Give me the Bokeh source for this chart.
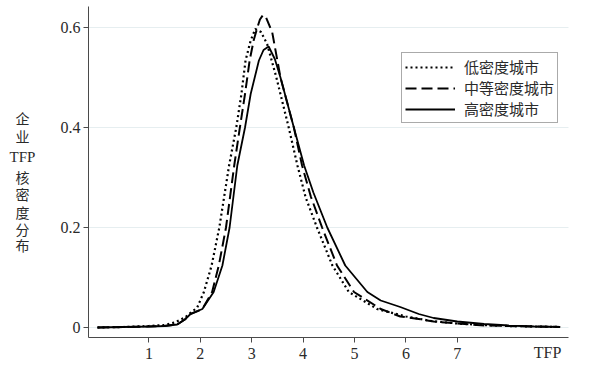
from bokeh.plotting import figure
from bokeh.models import (Range1d, FixedTicker, CustomJSTickFormatter,
                          Legend, LegendItem, Label)
from bokeh.embed import file_html
from bokeh.resources import INLINE

# ---- data ----
low_x = [0, 0.5, 1.0, 1.3, 1.5, 1.7, 1.94, 2.07, 2.22, 2.37, 2.56, 2.70, 2.80,
         2.88, 2.98, 3.07, 3.18, 3.30, 3.48, 3.72, 3.89, 4.05, 4.27, 4.57,
         4.89, 5.44, 6.0, 6.5, 7.0, 7.5, 8.0, 8.5, 9.0]
low_y = [0.000, 0.001, 0.003, 0.005, 0.010, 0.020, 0.040, 0.071, 0.124, 0.200,
         0.324, 0.400, 0.467, 0.534, 0.574, 0.597, 0.591, 0.567, 0.500, 0.400,
         0.324, 0.260, 0.200, 0.124, 0.071, 0.037, 0.022, 0.013, 0.008, 0.005,
         0.003, 0.002, 0.001]

mid_x = [0, 0.5, 1.0, 1.3, 1.55, 1.7, 1.81, 1.95, 2.04, 2.23, 2.36, 2.50, 2.66,
         2.77, 2.87, 2.96, 3.04, 3.11, 3.16, 3.22, 3.28, 3.40, 3.56, 3.82,
         3.98, 4.15, 4.37, 4.66, 4.99, 5.51, 5.89, 6.25, 6.54, 7.0, 7.52, 8.0,
         8.5, 9.0]
mid_y = [0.000, 0.001, 0.002, 0.003, 0.006, 0.016, 0.027, 0.033, 0.037, 0.071,
         0.124, 0.200, 0.324, 0.400, 0.467, 0.534, 0.575, 0.600, 0.616, 0.625,
         0.620, 0.590, 0.500, 0.400, 0.324, 0.262, 0.200, 0.124, 0.071, 0.037,
         0.022, 0.017, 0.012, 0.008, 0.004, 0.003, 0.002, 0.001]

high_x = [0, 0.5, 1.0, 1.3, 1.55, 1.7, 1.81, 1.95, 2.04, 2.26, 2.43, 2.57,
          2.72, 2.87, 2.98, 3.14, 3.23, 3.33, 3.45, 3.56, 3.82, 4.02, 4.20,
          4.47, 4.82, 5.25, 5.51, 5.89, 6.25, 6.54, 7.0, 7.52, 8.0, 8.5, 9.0]
high_y = [0.000, 0.001, 0.002, 0.003, 0.006, 0.016, 0.027, 0.033, 0.037, 0.071,
          0.124, 0.200, 0.324, 0.400, 0.467, 0.534, 0.555, 0.562, 0.537, 0.500,
          0.400, 0.324, 0.270, 0.200, 0.124, 0.071, 0.054, 0.041, 0.027, 0.019,
          0.012, 0.007, 0.004, 0.002, 0.001]

series_names = ["低密度城市", "中等密度城市", "高密度城市"]
x_ticks = [1, 2, 3, 4, 5, 6, 7]
y_ticks = [0, 0.2, 0.4, 0.6]
x_title = "TFP"
y_title_lines = ["企", "业", "TFP", "核", "密", "度", "分", "布"]

SERIF = "Liberation Serif"
CJK = "Noto Sans CJK SC"
AX = "#4a4a4a"
TXT = "#2a2a2a"

# axis box (data units) and whole-canvas view
X0, X1 = -0.175, 9.16
Y0, Y1 = -0.02, 0.642
W, H = 583, 362
XPX, YPX = 51.4, 500.0          # pixels per data unit
XORG, YORG = 97, 327            # canvas position of data (0, 0)

p = figure(width=W, height=H, output_backend="svg", toolbar_location=None,
           x_range=Range1d(-XORG / XPX, (W - XORG) / XPX),
           y_range=Range1d((YORG - H) / YPX, YORG / YPX),
           min_border_left=0, min_border_right=0, min_border_top=0,
           min_border_bottom=0)
p.background_fill_color = "white"
p.border_fill_color = "white"
p.outline_line_color = None

# grid lines limited to the axis box
g = p.ygrid[0]
p.xgrid.grid_line_color = None
g.ticker = FixedTicker(ticks=y_ticks)
if "cross_bounds" in g.properties():
    g.cross_bounds = (X0, X1)
    g.grid_line_color = "#e6eef0"
else:
    g.grid_line_color = None
    p.segment(x0=[X0] * len(y_ticks), y0=y_ticks, x1=[X1] * len(y_ticks),
              y1=y_ticks, line_color="#e6eef0", line_width=1)

r_low = p.line(low_x, low_y, line_color="black", line_width=2.2, line_dash="2 3")
r_mid = p.line(mid_x, mid_y, line_color="black", line_width=2.0, line_dash="11 5")
r_high = p.line(high_x, high_y, line_color="black", line_width=1.8)

# axes drawn at fixed positions inside the canvas-wide frame
xa, ya = p.xaxis[0], p.yaxis[0]
xa.fixed_location = Y0
ya.fixed_location = X0
xa.bounds = (X0, X1)
ya.bounds = (Y0, Y1)
xa.ticker = FixedTicker(ticks=x_ticks)
ya.ticker = FixedTicker(ticks=y_ticks)
ya.formatter = CustomJSTickFormatter(code="return tick == 0 ? '0' : tick.toFixed(1);")
for ax in (xa, ya):
    ax.axis_line_color = AX
    ax.major_tick_line_color = AX
    ax.major_tick_out = 5
    ax.major_tick_in = 0
    ax.minor_tick_line_color = None
    ax.major_label_text_font = SERIF
    ax.major_label_text_font_size = "16px"
    ax.major_label_text_color = TXT
xa.major_label_standoff = 5
ya.major_label_standoff = 3

# x title at the right end, below the axis
p.add_layout(Label(x=(547 - XORG) / XPX, y=(YORG - 352) / YPX, text=x_title,
                   text_font=SERIF, text_font_size="16px", text_color=TXT,
                   text_align="center", text_baseline="middle"))

# stacked y title, one line per label
ys = [117, 135, 156, 176, 193, 211, 228, 244]
for t, py in zip(y_title_lines, ys):
    p.add_layout(Label(x=(22 - XORG) / XPX, y=(YORG - py) / YPX, text=t,
                       text_font=SERIF if t == "TFP" else CJK,
                       text_font_size="15px" if t == "TFP" else "14px",
                       text_color=TXT, text_align="center",
                       text_baseline="middle"))

legend = Legend(items=[LegendItem(label=series_names[0], renderers=[r_low]),
                       LegendItem(label=series_names[1], renderers=[r_mid]),
                       LegendItem(label=series_names[2], renderers=[r_high])],
                location=(401, H - 123))
legend.label_text_font = CJK
legend.label_text_font_size = "15px"
legend.label_text_line_height = 1.0
legend.label_text_color = TXT
legend.glyph_width = 50
legend.glyph_height = 18
legend.label_height = 18
legend.label_standoff = 9
legend.spacing = 0
legend.padding = 3
legend.margin = 0
legend.border_line_color = "#555555"
legend.border_line_width = 1
legend.background_fill_alpha = 1.0
p.add_layout(legend)

open("out.html", "w").write(file_html(p, INLINE))
